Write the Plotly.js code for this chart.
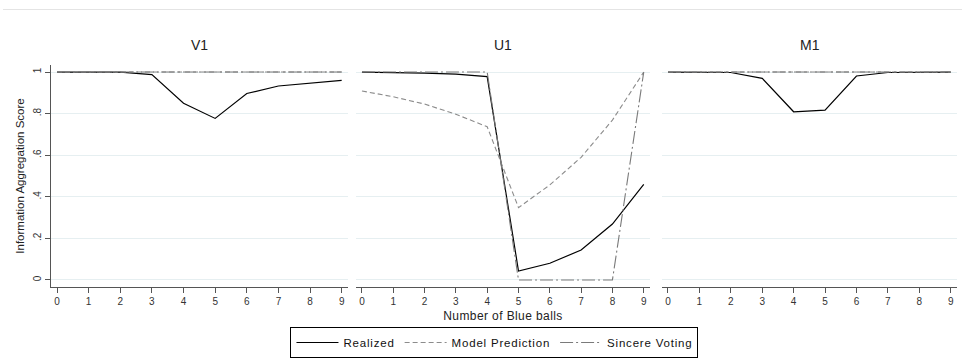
<!DOCTYPE html>
<html>
<head>
<meta charset="utf-8">
<script src="https://cdn.plot.ly/plotly-3.0.1.min.js"></script>
<style>
html,body{margin:0;padding:0;background:#fff;}
#chart{width:962px;height:358px;}
.legendtext{letter-spacing:0.8px;}
.g-x2title text{letter-spacing:0.4px;}
</style>
</head>
<body>
<div id="chart"></div>
<script>
const blueBalls = [0,1,2,3,4,5,6,7,8,9];
const panelNames = ["V1","U1","M1"];
const seriesNames = ["Realized","Model Prediction","Sincere Voting"];

const v1Realized = [1,1,1,0.988,0.85,0.777,0.897,0.933,0.947,0.96];
const v1Model    = [1,1,1,1,1,1,1,1,1,1];
const v1Sincere  = [1,1,1,1,1,1,1,1,1,1];

const u1Realized = [1,0.998,0.995,0.99,0.978,0.043,0.08,0.144,0.269,0.46];
const u1Model    = [0.909,0.881,0.846,0.797,0.737,0.348,0.457,0.59,0.769,1];
const u1Sincere  = [1,1,1,1,1,0,0,0,0,1];

const m1Realized = [1,1,0.998,0.97,0.809,0.817,0.981,0.998,1,1];
const m1Model    = [1,1,1,1,1,1,1,1,1,1];
const m1Sincere  = [1,1,1,1,1,1,1,1,1,1];

const yTickVals = [0,0.2,0.4,0.6,0.8,1];
const yTickText = ["0",".2",".4",".6",".8","1"];

const panelData = [
  [v1Realized, v1Model, v1Sincere],
  [u1Realized, u1Model, u1Sincere],
  [m1Realized, m1Model, m1Sincere]
];

const W = 962, H = 358;
const FONT = "'Liberation Sans', Arial, sans-serif";
const styles = [
  {color:"#000000", width:1.2, dash:"solid"},
  {color:"#8c8c8c", width:1.1, dash:"5px,3px"},
  {color:"#7a7a7a", width:1.1, dash:"13px,3px,2px,3px"}
];

const traces = [];
panelData.forEach((series, p) => {
  series.forEach((vals, s) => {
    traces.push({
      x: blueBalls, y: vals, type: "scatter", mode: "lines",
      name: seriesNames[s],
      line: styles[s],
      xaxis: p === 0 ? "x" : "x" + (p+1),
      yaxis: p === 0 ? "y" : "y" + (p+1),
      showlegend: p === 0,
      hoverinfo: "skip"
    });
  });
});

const px = v => v / W;
const py = v => 1 - v / H;
const xDomains = [[px(51), px(348)], [px(356), px(650)], [px(662), px(957)]];
const yDomain = [py(287), py(65)];

const layout = {
  width: W, height: H,
  margin: {l:0, r:0, t:0, b:0},
  paper_bgcolor: "#ffffff",
  plot_bgcolor: "#ffffff",
  font: {family: FONT, color: "#222"},
  showlegend: true,
  legend: {
    orientation: "h", x: 0.514, xanchor: "center", y: py(327), yanchor: "top",
    bordercolor: "#000", borderwidth: 1, bgcolor: "#fff",
    font: {size: 11.5, color: "#111", family: FONT},
    tracegroupgap: 0, itemwidth: 42
  },
  annotations: [],
  shapes: [{type:"line", xref:"paper", yref:"paper", x0: px(3), x1: 1, y0: py(9.5), y1: py(9.5),
            line:{color:"#e4e4e4", width:1}}]
};

for (let p = 0; p < 3; p++) {
  const xk = p === 0 ? "xaxis" : "xaxis" + (p+1);
  const yk = p === 0 ? "yaxis" : "yaxis" + (p+1);
  layout[xk] = {
    domain: xDomains[p], range: [-0.19, 9.2], anchor: p === 0 ? "y" : "y" + (p+1),
    tickvals: blueBalls, ticks: "outside", ticklen: 5, tickcolor: "#555",
    showline: true, linecolor: "#555", linewidth: 1,
    showgrid: false, zeroline: false, automargin: false,
    tickfont: {size: 10, color: "#333", family: FONT}, fixedrange: true
  };
  layout[yk] = {
    domain: yDomain, range: [-0.034, 1.034], anchor: p === 0 ? "x" : "x" + (p+1),
    tickvals: yTickVals, ticktext: yTickText,
    showgrid: true, gridcolor: "#e6eff1", gridwidth: 1,
    zeroline: false, automargin: false, fixedrange: true,
    showline: p === 0, linecolor: "#555", linewidth: 1,
    ticks: p === 0 ? "outside" : "", ticklen: 5, tickcolor: "#555",
    showticklabels: p === 0, tickangle: -90,
    tickfont: {size: 10, color: "#333", family: FONT}
  };
  layout.annotations.push({
    text: panelNames[p], xref: "paper", yref: "paper",
    x: (xDomains[p][0] + xDomains[p][1]) / 2, y: py(45),
    xanchor: "center", yanchor: "middle", showarrow: false,
    font: {size: 14, color: "#222", family: FONT}
  });
}
layout.yaxis.title = {text: "Information Aggregation Score", font: {size: 11.5, color: "#222", family: FONT}, standoff: 4};
layout.xaxis2.title = {text: "Number of Blue balls", font: {size: 12, color: "#222", family: FONT}, standoff: 5};

Plotly.newPlot("chart", traces, layout, {staticPlot: true, displayModeBar: false});
</script>
</body>
</html>
